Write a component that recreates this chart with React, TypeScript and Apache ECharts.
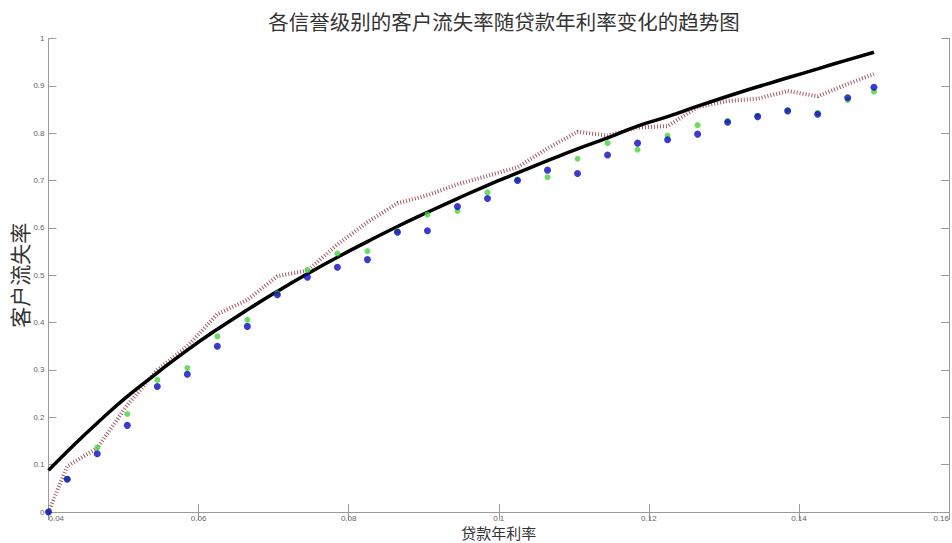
import React, { useEffect, useRef } from "react";
import * as echarts from "echarts";

const TITLE = "各信誉级别的客户流失率随贷款年利率变化的趋势图";
const X_NAME = "贷款年利率";
const Y_NAME = "客户流失率";

const rates = [
  0.04, 0.0425, 0.0465, 0.0505, 0.0545, 0.0585, 0.0625, 0.0665, 0.0705, 0.0745,
  0.0785, 0.0825, 0.0865, 0.0905, 0.0945, 0.0985, 0.1025, 0.1065, 0.1105, 0.1145,
  0.1185, 0.1225, 0.1265, 0.1305, 0.1345, 0.1385, 0.1425, 0.1465, 0.15,
];

// dotted maroon line
const churnA = [
  0, 0.097, 0.135, 0.226, 0.3, 0.35, 0.418, 0.448, 0.498, 0.51,
  0.565, 0.612, 0.652, 0.669, 0.692, 0.71, 0.728, 0.768, 0.803, 0.795,
  0.812, 0.815, 0.855, 0.868, 0.873, 0.889, 0.878, 0.904, 0.925,
];

// green dots
const churnB = [
  0, 0.07, 0.136, 0.207, 0.279, 0.304, 0.371, 0.406, 0.462, 0.511,
  0.546, 0.551, 0.593, 0.628, 0.636, 0.675, 0.702, 0.707, 0.746, 0.779,
  0.765, 0.795, 0.817, 0.826, 0.837, 0.849, 0.843, 0.87, 0.888,
];

// blue dots
const churnC = [
  0, 0.069, 0.123, 0.183, 0.265, 0.291, 0.35, 0.392, 0.459, 0.496,
  0.517, 0.533, 0.591, 0.594, 0.645, 0.662, 0.7, 0.722, 0.715, 0.754,
  0.779, 0.786, 0.798, 0.823, 0.835, 0.847, 0.84, 0.875, 0.897,
];

// black fitted curve
const fitted = [
  0.088, 0.128, 0.188, 0.244, 0.294, 0.342, 0.386, 0.427, 0.466, 0.503,
  0.538, 0.571, 0.603, 0.633, 0.662, 0.69, 0.716, 0.742, 0.767, 0.79,
  0.815, 0.835, 0.857, 0.878, 0.898, 0.917, 0.936, 0.955, 0.971,
];

const X_MIN = 0.04;
const X_MAX = 0.16;
const X_STEP = 0.02;
const Y_MIN = 0;
const Y_MAX = 1;
const Y_STEP = 0.1;

const pairs = (ys: number[]) => rates.map((x, i) => [x, ys[i]]);

export default function App() {
  const ref = useRef<HTMLDivElement>(null);
  useEffect(() => {
    if (!ref.current) return;
    const chart = echarts.init(ref.current, null, { renderer: "svg" });
    const axisColor = "#9a9a9a";
    const fmt = (v: number) => String(+v.toFixed(2));
    const labelStyle = {
      color: "#666",
      fontSize: 8,
      lineHeight: 9,
      fontFamily: "Liberation Sans, Arial, sans-serif",
    };
    chart.setOption({
      animation: false,
      backgroundColor: "#ffffff",
      title: {
        text: TITLE,
        left: 499,
        top: 6,
        textAlign: "center",
        textStyle: { fontSize: 20.5, fontWeight: "normal", color: "#333", fontFamily: "Noto Sans CJK SC" },
      },
      grid: {
        left: 48.5,
        right: 3,
        top: 38.5,
        bottom: 31,
        containLabel: false,
        outerBoundsMode: "none",
      },
      xAxis: [
        {
          type: "value",
          min: X_MIN,
          max: X_MAX,
          interval: X_STEP,
          name: X_NAME,
          nameLocation: "middle",
          nameGap: 12.5,
          nameMoveOverlap: false,
          nameTextStyle: { fontSize: 15, color: "#333", fontFamily: "Noto Sans CJK SC", lineHeight: 15 },
          axisLine: { show: true, lineStyle: { color: axisColor, width: 1 } },
          axisTick: { show: true, inside: true, length: 8, lineStyle: { color: axisColor } },
          axisLabel: {
            ...labelStyle,
            formatter: fmt,
            margin: 2,
            showMinLabel: true,
            showMaxLabel: true,
            alignMinLabel: "left",
            alignMaxLabel: "right",
          },
          splitLine: { show: false },
        },
        {
          type: "value",
          position: "top",
          min: X_MIN,
          max: X_MAX,
          interval: X_STEP,
          axisLine: { show: true, lineStyle: { color: axisColor, width: 1 } },
          axisTick: { show: true, inside: true, length: 8, lineStyle: { color: axisColor } },
          axisLabel: { show: false },
          splitLine: { show: false },
        },
      ],
      yAxis: [
        {
          type: "value",
          min: Y_MIN,
          max: Y_MAX,
          interval: Y_STEP,
          name: Y_NAME,
          nameLocation: "middle",
          nameRotate: 90,
          nameGap: 19,
          nameMoveOverlap: false,
          nameTextStyle: { fontSize: 21, color: "#333", fontFamily: "Noto Sans CJK SC", lineHeight: 22 },
          axisLine: { show: true, lineStyle: { color: axisColor, width: 1 } },
          axisTick: { show: true, inside: true, length: 8, lineStyle: { color: axisColor } },
          axisLabel: { ...labelStyle, formatter: fmt, margin: 4, showMinLabel: true },
          splitLine: { show: false },
        },
        {
          type: "value",
          position: "right",
          min: Y_MIN,
          max: Y_MAX,
          interval: Y_STEP,
          axisLine: { show: true, lineStyle: { color: axisColor, width: 1 } },
          axisTick: { show: true, inside: true, length: 8, lineStyle: { color: axisColor } },
          axisLabel: { show: false },
          splitLine: { show: false },
        },
      ],
      series: [
        {
          type: "line",
          data: pairs(churnA),
          showSymbol: false,
          symbol: "none",
          lineStyle: { color: "#a45a64", width: 4, type: [1, 2] },
          z: 2,
        },
        {
          type: "line",
          data: pairs(fitted),
          showSymbol: false,
          symbol: "none",
          smooth: true,
          lineStyle: { color: "#000000", width: 3.5 },
          z: 3,
        },
        {
          type: "scatter",
          data: pairs(churnB),
          symbol: "circle",
          symbolSize: 6,
          itemStyle: { color: "#46d43c" },
          z: 4,
        },
        {
          type: "scatter",
          data: pairs(churnC),
          symbol: "circle",
          symbolSize: 7,
          itemStyle: { color: "#0a0ac0" },
          z: 5,
        },
      ],
    });
    return () => chart.dispose();
  }, []);
  return (
    <div
      ref={ref}
      style={{ position: "fixed", left: 0, top: 0, width: 952, height: 543, background: "#fff" }}
    />
  );
}
